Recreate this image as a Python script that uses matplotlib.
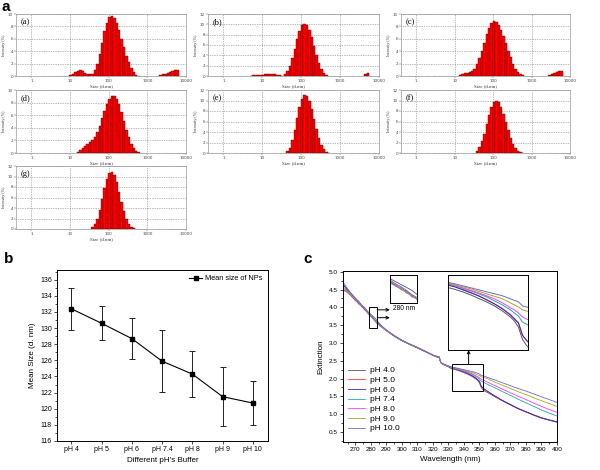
import numpy as np
import matplotlib
matplotlib.use("Agg")
import matplotlib.pyplot as plt
from matplotlib.ticker import MultipleLocator, FixedLocator, LogLocator, NullFormatter
from matplotlib.patches import Rectangle

# ---------------- data: panel a (DLS size distributions, Intensity %) ----------------
# values per Malvern size class (70 log-spaced classes 0.4 nm - 10000 nm), starting at class index *_start
dls_a_start = 22
dls_a = [0.1, 0.3, 0.6, 0.85, 0.9, 0.75, 0.5, 0.3, 0.25, 0.4, 0.9, 2.0, 3.6, 5.4, 7.2, 8.6, 9.5, 9.7, 9.4,
         8.6, 7.4, 6.0, 4.6, 3.3, 2.2, 1.3, 0.6, 0.2, 0.05, 0, 0, 0, 0, 0, 0, 0, 0,
         0.1, 0.25, 0.4, 0.55, 0.7, 0.85, 0.95, 1.0]
dls_b_start = 17
dls_b = [0.05, 0.1, 0.1, 0.15, 0.2, 0.25, 0.3, 0.35, 0.4, 0.4, 0.35, 0.25, 0.1, 0.05, 0.3, 0.9, 2.0, 3.5,
         5.3, 7.2, 8.8, 9.8, 10.1, 9.8, 8.9, 7.5, 5.8, 4.1, 2.6, 1.4, 0.6, 0.15,
         0, 0, 0, 0, 0, 0, 0, 0, 0, 0, 0, 0, 0, 0, 0, 0.3, 0.55]
dls_c_start = 24
dls_c = [0.2, 0.4, 0.5, 0.5, 0.6, 0.8, 1.2, 1.9, 2.9, 4.1, 5.4, 6.7, 7.8, 8.5, 8.8, 8.7, 8.2, 7.4, 6.4,
         5.3, 4.1, 3.0, 2.0, 1.2, 0.6, 0.25, 0.1, 0, 0, 0, 0, 0, 0, 0, 0, 0, 0,
         0.15, 0.3, 0.45, 0.6, 0.75, 0.85]
dls_d_start = 25
dls_d = [0.2, 0.5, 0.8, 1.1, 1.4, 1.7, 2.1, 2.6, 3.3, 4.3, 5.5, 6.7, 7.8, 8.6, 9.1, 9.1, 8.6, 7.7, 6.5,
         5.1, 3.7, 2.5, 1.5, 0.8, 0.3, 0.1]
dls_e_start = 32
dls_e = [0.3, 1.0, 2.4, 4.4, 6.7, 8.8, 10.3, 11.0, 10.8, 9.9, 8.3, 6.5, 4.6, 2.9, 1.6, 0.7, 0.25, 0.05]
dls_f_start = 31
dls_f = [0.4, 1.1, 2.2, 3.7, 5.5, 7.3, 8.8, 9.7, 10.0, 9.7, 8.8, 7.5, 5.9, 4.3, 2.9, 1.7, 0.9, 0.4, 0.15, 0.05]
dls_g_start = 31
dls_g = [0.3, 0.9, 2.0, 3.7, 5.8, 7.9, 9.6, 10.6, 10.8, 10.2, 8.9, 7.1, 5.2, 3.4, 2.0, 1.0, 0.4, 0.1]
dls_labels = ["(a)", "(b)", "(c)", "(d)", "(e)", "(f)", "(g)"]
dls_ymax = [10, 12, 10, 10, 12, 12, 12]
size_ticks = [1, 10, 100, 1000, 10000]

# ---------------- data: panel b ----------------
ph_labels = ["pH 4", "pH 5", "pH 6", "pH 7.4", "pH 8", "pH 9", "pH 10"]
mean_size = [132.4, 130.6, 128.7, 125.9, 124.3, 121.5, 120.7]
size_err = [2.6, 2.1, 2.5, 3.8, 2.9, 3.7, 2.7]

# ---------------- data: panel c (extinction spectra) ----------------
wl = [262, 264, 266, 268, 270, 272, 274, 276, 278, 279, 280, 281, 282, 283, 284, 285, 286, 288, 290,
      295, 300, 305, 310, 315, 320, 323, 324, 325, 326, 328, 330,
      332, 334, 336, 338, 340, 342, 344, 346, 348, 349, 350, 351, 352, 353,
      356, 360, 365, 370, 375, 380, 385, 390, 395, 400]
ext_ph40 = [4.62, 4.55, 4.44, 4.36, 4.25, 4.18, 4.06, 3.99, 3.88, 3.84, 3.80, 3.76, 3.72, 3.68, 3.62, 3.57, 3.52, 3.44, 3.36,
            3.20, 3.07, 2.96, 2.87, 2.76, 2.65, 2.60, 2.60, 2.45, 2.41, 2.37, 2.33,
            2.275, 2.255, 2.23, 2.20, 2.165, 2.13, 2.09, 2.04, 1.98, 1.94, 1.88, 1.76, 1.70, 1.66,
            1.59, 1.49, 1.37, 1.26, 1.15, 1.06, 0.97, 0.89, 0.83, 0.775]
ext_ph50 = [4.50, 4.44, 4.38, 4.28, 4.21, 4.10, 4.03, 3.93, 3.86, 3.79, 3.75, 3.71, 3.65, 3.61, 3.56, 3.53, 3.48, 3.42, 3.35,
            3.20, 3.07, 2.96, 2.86, 2.76, 2.65, 2.60, 2.60, 2.45, 2.41, 2.37, 2.34,
            2.30, 2.28, 2.255, 2.225, 2.19, 2.155, 2.11, 2.065, 2.005, 1.965, 1.925, 1.80, 1.75, 1.71,
            1.62, 1.51, 1.385, 1.27, 1.16, 1.07, 0.98, 0.90, 0.84, 0.785]
ext_ph60 = [4.66, 4.52, 4.43, 4.30, 4.19, 4.14, 4.02, 3.95, 3.84, 3.80, 3.74, 3.70, 3.67, 3.60, 3.56, 3.52, 3.49, 3.41, 3.34,
            3.19, 3.06, 2.96, 2.86, 2.76, 2.66, 2.61, 2.60, 2.46, 2.42, 2.38, 2.34,
            2.30, 2.28, 2.25, 2.22, 2.19, 2.15, 2.11, 2.06, 2.00, 1.96, 1.92, 1.80, 1.75, 1.71,
            1.62, 1.51, 1.38, 1.27, 1.16, 1.07, 0.98, 0.90, 0.84, 0.785]
ext_ph74 = [4.45, 4.47, 4.36, 4.33, 4.20, 4.12, 4.05, 3.93, 3.86, 3.78, 3.74, 3.72, 3.64, 3.62, 3.55, 3.53, 3.47, 3.42, 3.35,
            3.20, 3.07, 2.97, 2.87, 2.77, 2.66, 2.61, 2.61, 2.46, 2.42, 2.38, 2.35,
            2.31, 2.29, 2.265, 2.24, 2.21, 2.18, 2.14, 2.10, 2.05, 2.02, 1.99, 1.93, 1.91, 1.89,
            1.82, 1.74, 1.63, 1.53, 1.42, 1.32, 1.22, 1.12, 1.03, 0.95]
ext_ph80 = [4.52, 4.46, 4.41, 4.29, 4.24, 4.11, 4.04, 3.96, 3.83, 3.81, 3.75, 3.69, 3.66, 3.59, 3.56, 3.51, 3.48, 3.41, 3.35,
            3.21, 3.08, 2.97, 2.87, 2.76, 2.66, 2.61, 2.60, 2.46, 2.42, 2.38, 2.35,
            2.315, 2.295, 2.27, 2.245, 2.22, 2.19, 2.16, 2.12, 2.07, 2.05, 2.02, 1.98, 1.96, 1.95,
            1.88, 1.80, 1.70, 1.60, 1.50, 1.41, 1.31, 1.22, 1.13, 1.05]
ext_ph90 = [4.55, 4.49, 4.39, 4.32, 4.22, 4.15, 4.03, 3.97, 3.85, 3.79, 3.77, 3.70, 3.65, 3.61, 3.55, 3.52, 3.49, 3.42, 3.34,
            3.20, 3.07, 2.96, 2.87, 2.77, 2.66, 2.61, 2.61, 2.46, 2.42, 2.38, 2.35,
            2.32, 2.30, 2.28, 2.26, 2.235, 2.21, 2.185, 2.16, 2.12, 2.10, 2.08, 2.05, 2.04, 2.03,
            1.98, 1.90, 1.81, 1.72, 1.63, 1.55, 1.46, 1.38, 1.30, 1.22]
ext_ph100 = [4.72, 4.58, 4.46, 4.34, 4.26, 4.13, 4.07, 3.94, 3.87, 3.82, 3.77, 3.73, 3.68, 3.62, 3.58, 3.54, 3.50, 3.43, 3.36,
             3.21, 3.08, 2.97, 2.88, 2.77, 2.66, 2.62, 2.61, 2.47, 2.43, 2.39, 2.35,
             2.325, 2.31, 2.29, 2.27, 2.25, 2.23, 2.21, 2.19, 2.16, 2.145, 2.13, 2.09, 2.08, 2.07,
             2.02, 1.96, 1.88, 1.80, 1.72, 1.65, 1.57, 1.49, 1.41, 1.33]
spec_labels = ["pH 4.0", "pH 5.0", "pH 6.0", "pH 7.4", "pH 8.0", "pH 9.0", "pH 10.0"]
spec_colors = ["#555555", "#ff3c3c", "#2a2ad0", "#22a8a8", "#ff3cff", "#a8a820", "#6a6ad2"]

# ---------------- figure ----------------
W, H = 600, 470
fig = plt.figure(figsize=(6, 4.7), dpi=100)
SANS = ["Liberation Sans", "DejaVu Sans"]
SERIF = ["Liberation Serif", "DejaVu Serif"]


def add_px(x0, y0, x1, y1):
    return fig.add_axes([x0 / W, 1 - y1 / H, (x1 - x0) / W, (y1 - y0) / H])


# ---- panel a ----
size_edges = np.logspace(np.log10(0.4), 4, 71)
dls_sets = [(dls_a_start, dls_a), (dls_b_start, dls_b), (dls_c_start, dls_c), (dls_d_start, dls_d),
            (dls_e_start, dls_e), (dls_f_start, dls_f), (dls_g_start, dls_g)]
col_x = [(16, 186), (208, 379), (401, 570)]
row_y = [(14, 76), (90, 153), (166, 229)]
for i, ((start, vals), lab, ymax) in enumerate(zip(dls_sets, dls_labels, dls_ymax)):
    r, c = divmod(i, 3)
    ax = add_px(col_x[c][0], row_y[r][0], col_x[c][1], row_y[r][1])
    vals = np.asarray(vals, dtype=float)
    k = np.arange(start, start + len(vals))
    m = vals > 0
    left = size_edges[k][m]
    width = (size_edges[k + 1] - size_edges[k])[m]
    ax.bar(left, vals[m], width=width, align="edge", color="#ff0000",
           edgecolor="#6a0000", linewidth=0.3, zorder=3)
    ax.set_xscale("log")
    ax.set_xlim(0.4, 10000)
    ax.set_ylim(0, ymax)
    ax.xaxis.set_major_locator(FixedLocator(size_ticks))
    ax.set_xticklabels([str(t) for t in size_ticks])
    ax.xaxis.set_minor_locator(LogLocator(base=10, subs=np.arange(2, 10)))
    ax.xaxis.set_minor_formatter(NullFormatter())
    ax.set_yticks(np.arange(0, ymax + 1, 2))
    ax.grid(True, which="major", linestyle=(0, (1, 1.5)), color="#777777", linewidth=0.5, zorder=0)
    ax.set_axisbelow(True)
    ax.tick_params(which="both", labelsize=3, length=1.2, width=0.3, pad=1, colors="#444444")
    ax.tick_params(which="minor", length=0.8)
    for sp in ax.spines.values():
        sp.set_color("#999999")
        sp.set_linewidth(0.5)
    ax.set_xlabel("Size (d.nm)", fontsize=3.5, labelpad=0.8, family=SERIF, color="#333333")
    ax.set_ylabel("Intensity (%)", fontsize=3, labelpad=1.5, family=SERIF, color="#333333")
    ax.text(0.025, 0.93, lab, transform=ax.transAxes, fontsize=6, family=SERIF, va="top", ha="left")

# ---- panel b ----
axb = add_px(57, 270, 268, 441)
xb = np.arange(len(ph_labels))
axb.errorbar(xb, mean_size, yerr=size_err, fmt="none", ecolor="#222222", elinewidth=0.7,
             capsize=2.3, capthick=0.7)
axb.plot(xb, mean_size, "-s", color="black", ms=3.2, lw=0.8, label="Mean size of NPs")
axb.set_xlim(-0.47, 6.5)
axb.set_ylim(116, 137.2)
axb.set_xticks(xb)
axb.set_xticklabels(ph_labels, family=SANS)
axb.set_yticks(np.arange(116, 137, 2))
axb.yaxis.set_minor_locator(MultipleLocator(1))
axb.tick_params(which="both", labelsize=5, length=2.2, width=0.5, pad=1.5)
axb.tick_params(which="minor", length=1.3)
for lbl in axb.get_yticklabels():
    lbl.set_family(SANS)
for sp in axb.spines.values():
    sp.set_linewidth(0.7)
axb.set_xlabel("Different pH's Buffer", fontsize=5.8, family=SANS, labelpad=3)
axb.set_ylabel("Mean Size (d. nm)", fontsize=5.8, family=SANS, labelpad=3)
axb.legend(loc="upper right", frameon=False, prop={"family": SANS, "size": 5.3},
           handlelength=1.8, handletextpad=0.4, borderaxespad=0.3)

# ---- panel c ----
axc = add_px(343, 271, 557, 442)
spec_sets = [ext_ph40, ext_ph50, ext_ph60, ext_ph74, ext_ph80, ext_ph90, ext_ph100]
for vals, lab, col in zip(spec_sets, spec_labels, spec_colors):
    axc.plot(wl, vals, color=col, lw=0.6, label=lab)
axc.set_xlim(262, 400)
axc.set_ylim(0.22, 5.02)
axc.set_xticks(np.arange(270, 401, 10))
axc.xaxis.set_minor_locator(MultipleLocator(5))
axc.set_yticks(np.arange(0.5, 5.01, 0.5))
axc.yaxis.set_minor_locator(MultipleLocator(0.25))
axc.set_yticklabels([f"{v:.1f}" for v in np.arange(0.5, 5.01, 0.5)], family=SANS)
axc.set_xticklabels([str(v) for v in range(270, 401, 10)], family=SANS)
axc.tick_params(which="both", labelsize=4.6, length=2.2, width=0.5, pad=1.5)
axc.tick_params(which="minor", length=1.3)
for sp in axc.spines.values():
    sp.set_linewidth(0.7)
axc.set_xlabel("Wavelength (nm)", fontsize=5.8, family=SANS, labelpad=3)
axc.set_ylabel("Extinction", fontsize=5.8, family=SANS, labelpad=3)
axc.legend(loc="upper left", bbox_to_anchor=(0.0, 0.47), frameon=False,
           prop={"family": SANS, "size": 6}, handlelength=2.0, handletextpad=0.6,
           labelspacing=0.22, borderaxespad=0.2)

# zoom boxes in main plot
axc.add_patch(Rectangle((279, 3.42), 5, 0.58, fill=False, ec="black", lw=0.7, zorder=5))
axc.add_patch(Rectangle((332.5, 1.65), 20, 0.75, fill=False, ec="black", lw=0.7, zorder=5))
arrow_kw = dict(arrowstyle="->", color="black", lw=0.7, mutation_scale=5, shrinkA=0, shrinkB=0)
axc.annotate("", xy=(292.2, 3.93), xytext=(284, 3.93), arrowprops=arrow_kw)
axc.annotate("", xy=(292.2, 3.71), xytext=(284, 3.71), arrowprops=arrow_kw)
axc.annotate("", xy=(343, 2.80), xytext=(343, 2.42), arrowprops=arrow_kw)

# inset 1 (around 280 nm)
ins1 = axc.inset_axes([292.6, 4.11, 17.4, 0.81], transform=axc.transData)
for vals, col in zip(spec_sets, spec_colors):
    ins1.plot(wl, vals, color=col, lw=0.6)
ins1.set_xlim(279, 284)
ins1.set_ylim(3.50, 3.90)
ins1.set_xticks([])
ins1.set_yticks([])
for sp in ins1.spines.values():
    sp.set_linewidth(0.7)
axc.text(301.3, 4.07, "280 nm", fontsize=4.8, family=SANS, ha="center", va="top")

# inset 2 (330-350 nm)
ins2 = axc.inset_axes([330, 2.79, 51.6, 2.13], transform=axc.transData)
for vals, col in zip(spec_sets, spec_colors):
    ins2.plot(wl, vals, color=col, lw=0.7)
ins2.set_xlim(332.5, 352.5)
ins2.set_ylim(1.65, 2.40)
ins2.set_xticks([])
ins2.set_yticks([])
for sp in ins2.spines.values():
    sp.set_linewidth(0.7)

# panel letters
fig.text(2 / W, 1 - 0 / H, "a", fontsize=11, fontweight="bold", family=SANS, va="top", ha="left")
fig.text(4 / W, 1 - 252 / H, "b", fontsize=11, fontweight="bold", family=SANS, va="top", ha="left")
fig.text(303 / W, 1 - 252 / H, "c", fontsize=11, fontweight="bold", family=SANS, va="top", ha="left")

fig.savefig("out.png", dpi=100)
